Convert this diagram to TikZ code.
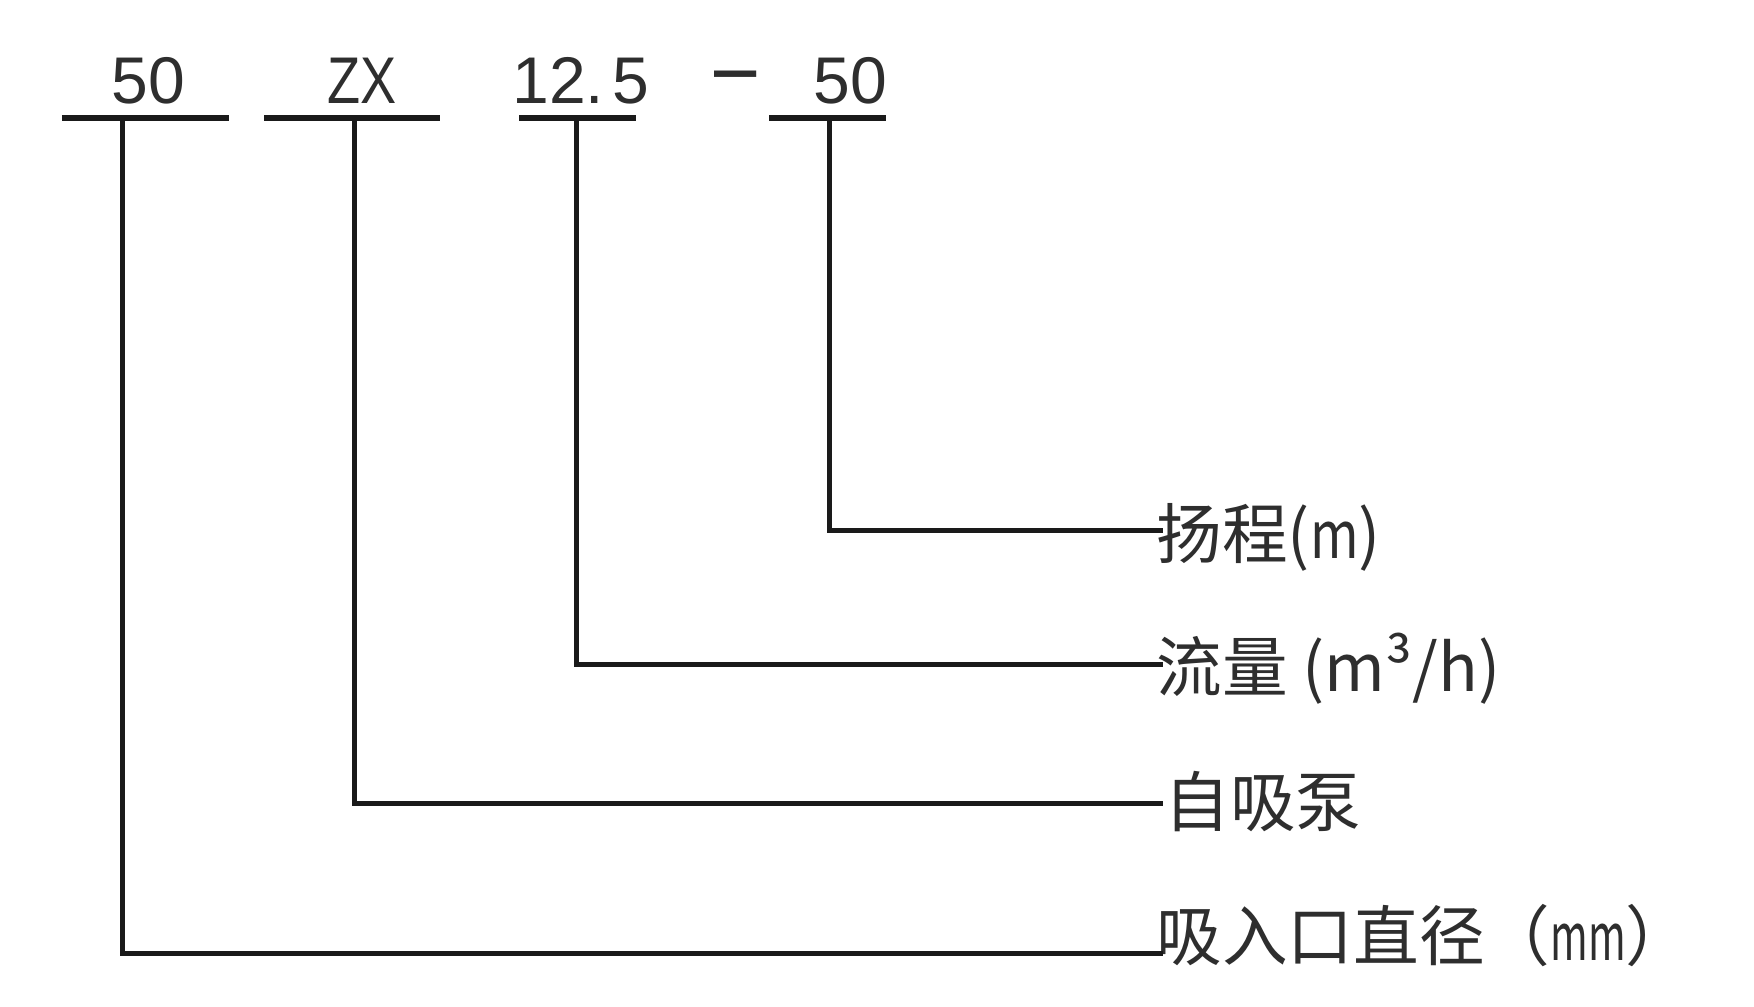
\documentclass[tikz,border=0pt]{standalone}
\usepackage{fontspec}
\setmainfont{Liberation Sans}
\newfontfamily\cjk{Noto Sans CJK SC}
\definecolor{ink}{HTML}{2E2E2E}
\definecolor{rule}{HTML}{1A1A1A}
\begin{document}
\begin{tikzpicture}[x={(0.01cm,0)},y={(0,-0.01cm)},
  code/.style={inner sep=0pt,text=ink,font=\fontsize{16.7pt}{18pt}\selectfont},
  lab/.style={inner sep=0pt,text=ink,anchor=base west,font=\cjk\fontsize{16.6pt}{18pt}\selectfont},
  wire/.style={draw=rule,line width=1.3pt}]
\useasboundingbox (0,0) rectangle (1560,895);
% model code
\node[code,anchor=base] (c1) at (132,92) {50};
\node[code,anchor=base] (c2) at (322,92) {\scalebox{0.82}[1]{ZX}};
\node[code,anchor=base west] (c3) at (455,92) {12.\hspace{0.12em}5};
\node[code,anchor=base] (dash) at (654,92) {\raisebox{0.04cm}{\scalebox{1.15}[1.45]{–}}};
\node[code,anchor=base] (c4) at (756,92) {50};
% underlines
\coordinate (u1l) at (55,105);  \coordinate (u1r) at (204,105);
\coordinate (u2l) at (235,105); \coordinate (u2r) at (391,105);
\coordinate (u3l) at (462,105); \coordinate (u3r) at (566,105);
\coordinate (u4l) at (684,105); \coordinate (u4r) at (788,105);
\coordinate (v1) at (109,105);
\coordinate (v2) at (315,105);
\coordinate (v3) at (513,105);
\coordinate (v4) at (738,105);
% line ends
\coordinate (e1) at (1034,472);
\coordinate (e2) at (1034,591);
\coordinate (e3) at (1034,715);
\coordinate (e4) at (1034,848);
% labels
\node[lab] (l1) at (1028,497) {扬程(\scalebox{0.8}[1]{m})};
\node[lab] (l2) at (1028,615) {流量 (m³/h)};
\node[lab] (l3) at (1035,735) {自吸泵};
\node[lab] (l4) at (1028,854) {吸入口直径（\scalebox{0.62}[1]{mm}）};
% lines
\draw[wire] (u1l) -- (u1r);
\draw[wire] (u2l) -- (u2r);
\draw[wire] (u3l) -- (u3r);
\draw[wire] (u4l) -- (u4r);
\draw[wire] (v4) |- (e1);
\draw[wire] (v3) |- (e2);
\draw[wire] (v2) |- (e3);
\draw[wire] (v1) |- (e4);
\end{tikzpicture}
\end{document}
